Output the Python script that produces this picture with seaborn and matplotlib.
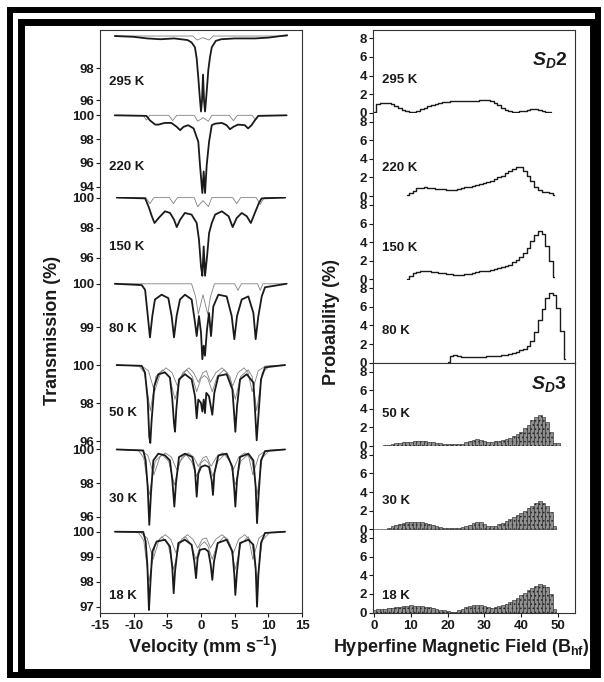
"""
Mossbauer spectra (left) and hyperfine field distributions (right)
for the S_D2 / S_D3 samples, 18 K - 295 K.
"""

import matplotlib.patches as mpatches
import matplotlib.pyplot as plt
import seaborn as sns

sns.set_theme(style="ticks")
plt.rcParams.update({
    "font.family": ["Liberation Sans", "DejaVu Sans"],
    "font.weight": "bold",
    "mathtext.fontset": "custom",
    "mathtext.rm": "Liberation Sans:bold",
    "mathtext.it": "Liberation Sans:italic:bold",
    "mathtext.bf": "Liberation Sans:bold",
    "axes.unicode_minus": False,
    "hatch.linewidth": 0.6,
    "axes.linewidth": 0.8,
})

# ---------------------------------------------------------------- data
temps = ["295 K", "220 K", "150 K", "80 K", "50 K", "30 K", "18 K"]

# measured spectra: velocity (mm/s) and transmission (%)
v_295 = [-12.8, -10.0, -8.0, -6.0, -4.0, -3.0, -2.0, -1.4, -0.9, -0.64, -0.4, -0.2, 0.0, 0.15,
         0.3, 0.45, 0.6, 0.8, 1.0, 1.09, 1.34, 1.6, 2.2, 3.0, 5.0, 8.0, 10.0, 12.8]
t_295 = [100.0, 99.95, 99.85, 99.8, 99.85, 99.8, 99.75, 99.6, 99.3, 98.6, 97.4, 96.3, 95.3, 96.0,
         97.6, 96.0, 95.3, 96.3, 97.4, 97.9, 98.7, 99.3, 99.7, 99.8, 99.85, 99.85, 99.9, 100.05]

v_220 = [-12.8, -8.1, -7.6, -6.8, -6.3, -5.4, -4.4, -3.6, -3.1, -2.6, -1.9, -1.1, -0.4, -0.15,
         0.2, 0.4, 0.6, 0.85, 1.2, 1.6, 2.1, 3.1, 3.8, 4.3, 4.8, 5.5, 6.5, 7.0, 7.5, 8.0, 8.5, 12.7]
t_220 = [100.0, 99.95, 99.58, 99.22, 99.22, 99.36, 99.36, 99.03, 98.75, 99.03, 99.17, 98.9, 97.78,
         95.83, 93.47, 95.28, 93.47, 95.83, 97.78, 99.17, 99.3, 99.36, 99.17, 98.83, 99.03, 99.22,
         99.17, 98.9, 99.17, 99.58, 99.95, 100.0]

v_150 = [-12.5, -8.3, -7.8, -7.3, -6.9, -6.3, -5.35, -4.6, -4.0, -3.6, -3.1, -2.4, -1.4, -0.64,
         -0.3, 0.0, 0.2, 0.4, 0.6, 0.9, 1.2, 1.6, 2.1, 3.1, 4.1, 4.7, 5.3, 6.05, 6.8, 7.4, 8.0,
         8.6, 9.0, 12.5]
t_150 = [100.0, 99.95, 99.42, 98.76, 98.31, 98.64, 99.09, 98.98, 98.53, 98.04, 98.53, 98.98, 98.87,
         98.31, 97.2, 95.42, 94.8, 96.75, 94.8, 96.09, 97.64, 98.31, 98.87, 99.09, 98.76, 98.04,
         98.64, 98.98, 98.76, 98.31, 98.98, 99.64, 99.95, 100.0]

v_80 = [-12.8, -8.8, -8.3, -7.9, -7.58, -7.23, -6.84, -5.85, -4.85, -4.36, -4.01, -3.62, -3.12,
        -2.38, -1.39, -0.89, -0.64, -0.30, 0.0, 0.2, 0.4, 0.59, 0.89, 1.19, 1.49, 1.83, 2.58, 3.81,
        4.56, 4.95, 5.35, 6.05, 7.03, 7.78, 8.12, 8.52, 9.02, 9.51, 12.7]
t_80 = [100.0, 99.97, 99.86, 99.26, 98.77, 99.26, 99.64, 99.75, 99.67, 99.26, 98.77, 99.26, 99.64,
        99.75, 99.64, 99.11, 98.8, 99.26, 98.88, 98.27, 98.58, 98.35, 98.95, 99.33, 98.8, 99.48,
        99.75, 99.71, 99.26, 98.73, 99.26, 99.64, 99.71, 99.33, 98.73, 99.26, 99.71, 99.92, 100.0]

v_50 = [-12.53, -8.81, -8.32, -7.92, -7.68, -7.53, -7.33, -6.93, -6.34, -5.35, -4.61, -4.26, -4.01,
        -3.86, -3.67, -3.27, -2.38, -1.39, -0.89, -0.64, -0.40, 0.0, 0.2, 0.4, 0.59, 0.79, 1.19,
        1.68, 1.98, 2.58, 3.81, 4.66, 4.95, 5.10, 5.35, 5.80, 6.79, 7.78, 8.02, 8.27, 8.52, 8.91,
        9.51, 12.48]
t_50 = [100.0, 99.96, 99.61, 98.19, 96.23, 95.91, 97.12, 98.9, 99.52, 99.61, 99.34, 98.19, 96.94,
        96.5, 97.65, 99.25, 99.52, 99.25, 98.36, 97.21, 98.19, 98.01, 97.56, 98.19, 97.48, 98.54,
        98.36, 97.39, 98.54, 99.43, 99.52, 98.72, 97.3, 96.5, 97.83, 99.25, 99.52, 99.08, 97.65,
        96.05, 97.3, 99.25, 99.88, 100.0]

v_30 = [-12.53, -8.57, -8.22, -7.92, -7.68, -7.43, -7.08, -6.34, -5.35, -4.61, -4.26, -3.96, -3.72,
        -3.27, -2.38, -1.29, -0.89, -0.64, -0.40, 0.0, 0.59, 1.19, 1.58, 1.78, 1.98, 2.58, 3.81,
        4.66, 4.95, 5.10, 5.35, 5.80, 7.03, 7.78, 8.12, 8.32, 8.57, 8.91, 9.51, 12.48]
t_30 = [100.0, 99.94, 99.35, 97.78, 95.53, 97.39, 99.35, 99.75, 99.65, 99.35, 98.18, 96.61, 97.98,
        99.55, 99.75, 99.55, 98.76, 97.2, 98.57, 98.96, 99.06, 98.96, 98.18, 97.3, 98.57, 99.65,
        99.75, 98.96, 97.59, 96.61, 98.18, 99.55, 99.75, 99.35, 97.78, 95.63, 97.39, 99.35, 99.9,
        100.0]

v_18 = [-12.78, -8.57, -8.22, -7.97, -7.83, -7.73, -7.53, -7.23, -6.59, -5.35, -4.61, -4.26, -4.06,
        -3.86, -3.37, -2.38, -1.39, -0.99, -0.74, -0.50, -0.15, 0.59, 1.09, 1.44, 1.68, 1.93, 2.48,
        3.81, 4.66, 4.95, 5.10, 5.35, 5.80, 7.03, 7.78, 8.12, 8.32, 8.52, 8.91, 9.51, 12.48]
t_18 = [100.0, 99.99, 99.61, 98.68, 97.61, 96.88, 97.88, 99.21, 99.61, 99.68, 99.41, 98.55, 97.55,
        98.41, 99.55, 99.68, 99.48, 98.81, 98.15, 98.95, 99.28, 99.32, 99.21, 98.68, 98.08, 98.81,
        99.55, 99.68, 99.21, 98.28, 97.48, 98.41, 99.55, 99.68, 99.48, 98.55, 97.01, 98.28, 99.55,
        99.95, 100.0]

# fitted sub-spectra (thin lines)
fit_v_295 = [-12.8, -1.2, -0.6, 0.3, 1.2, 1.8, 12.8]
fit_t_295 = [100.0, 100.0, 99.75, 99.9, 99.75, 100.0, 100.0]

fit_v_220 = [-12.8, -8.6, -8.1, -7.6, -4.8, -4.2, -3.6, -1.0, -0.5, 0.3, 1.1, 1.6, 4.2, 4.8, 5.4,
             7.6, 8.1, 8.6, 12.8]
fit_t_220 = [100.0, 100.0, 99.6, 100.0, 100.0, 99.55, 100.0, 100.0, 99.5, 99.8, 99.5, 100.0, 100.0,
             99.55, 100.0, 100.0, 99.6, 100.0, 100.0]

fit_v_150 = [-12.5, -8.2, -7.6, -7.0, -4.7, -4.1, -3.5, -1.0, -0.5, 0.3, 1.1, 1.6, 4.7, 5.3, 5.9,
             8.2, 8.8, 9.4, 12.5]
fit_t_150 = [100.0, 100.0, 99.6, 100.0, 100.0, 99.6, 100.0, 100.0, 99.4, 99.8, 99.4, 100.0, 100.0,
             99.6, 100.0, 100.0, 99.55, 100.0, 100.0]

fit_v_80 = [-12.8, -1.4, -0.8, -0.4, 0.3, 1.0, 1.4, 2.0, 5.0, 5.5, 6.0, 8.4, 8.8, 9.2, 12.8]
fit_t_80 = [100.0, 100.0, 99.7, 99.3, 99.75, 99.3, 99.7, 100.0, 100.0, 99.85, 100.0, 100.0, 99.85,
            100.0, 100.0]

fit_v_50a = [-12.5, -9.2, -8.4, -7.53, -6.7, -5.7, -4.7, -3.86, -3.0, -2.1, -1.3, -0.64, 0.0, 0.5,
             1.0, 1.68, 2.4, 3.4, 4.3, 5.1, 5.9, 7.0, 7.6, 8.27, 9.1, 10.2, 12.5]
fit_t_50a = [100.0, 99.95, 99.6, 97.6, 99.4, 99.75, 99.4, 98.2, 99.4, 99.75, 99.4, 98.6, 99.3,
             99.45, 99.3, 98.6, 99.4, 99.75, 99.4, 98.2, 99.4, 99.75, 99.4, 97.6, 99.6, 99.95, 100.0]
fit_v_50b = [-12.5, -8.8, -7.8, -6.9, -6.0, -5.2, -4.3, -3.5, -2.7, -1.8, -1.1, -0.4, 0.3, 0.8,
             1.4, 2.2, 3.1, 3.9, 4.7, 5.5, 6.4, 7.0, 7.6, 8.5, 9.6, 12.5]
fit_t_50b = [100.0, 99.95, 99.7, 98.6, 99.6, 99.85, 99.6, 98.9, 99.6, 99.85, 99.6, 99.1, 99.6, 99.7,
             99.1, 99.6, 99.85, 99.6, 98.9, 99.6, 99.85, 99.6, 98.6, 99.7, 99.95, 100.0]

fit_v_30a = [-12.5, -9.3, -8.5, -7.68, -6.8, -5.8, -4.8, -3.96, -3.1, -2.2, -1.4, -0.64, 0.0, 0.55,
             1.1, 1.78, 2.5, 3.5, 4.3, 5.1, 5.9, 7.0, 7.6, 8.32, 9.1, 10.2, 12.5]
fit_t_30a = [100.0, 99.95, 99.5, 97.3, 99.3, 99.7, 99.3, 97.9, 99.3, 99.7, 99.3, 98.4, 99.2, 99.4,
             99.2, 98.4, 99.3, 99.7, 99.3, 97.9, 99.3, 99.7, 99.3, 97.3, 99.5, 99.95, 100.0]
fit_v_30b = [-12.5, -8.9, -7.9, -7.0, -6.1, -5.3, -4.4, -3.6, -2.8, -1.9, -1.1, -0.4, 0.3, 0.8,
             1.5, 2.3, 3.2, 4.0, 4.8, 5.6, 6.5, 7.1, 7.7, 8.6, 9.7, 12.5]
fit_t_30b = [100.0, 99.95, 99.65, 98.5, 99.55, 99.8, 99.55, 98.8, 99.55, 99.8, 99.55, 99.0, 99.5,
             99.6, 99.0, 99.55, 99.8, 99.55, 98.8, 99.55, 99.8, 99.55, 98.5, 99.65, 99.95, 100.0]

fit_v_18a = [-12.5, -9.3, -8.5, -7.73, -6.8, -5.8, -4.9, -4.06, -3.2, -2.3, -1.5, -0.74, -0.1, 0.5,
             1.0, 1.68, 2.4, 3.4, 4.3, 5.1, 5.9, 7.0, 7.6, 8.32, 9.1, 10.2, 12.5]
fit_t_18a = [100.0, 99.97, 99.65, 98.0, 99.5, 99.8, 99.5, 98.5, 99.5, 99.8, 99.5, 98.9, 99.45, 99.6,
             99.45, 98.9, 99.5, 99.8, 99.5, 98.5, 99.5, 99.8, 99.5, 98.0, 99.65, 99.97, 100.0]
fit_v_18b = [-12.5, -9.0, -8.0, -7.1, -6.2, -5.3, -4.5, -3.7, -2.9, -2.0, -1.2, -0.5, 0.2, 0.8,
             1.4, 2.2, 3.1, 4.0, 4.8, 5.6, 6.5, 7.1, 7.7, 8.6, 9.7, 12.5]
fit_t_18b = [100.0, 99.97, 99.75, 98.9, 99.7, 99.88, 99.7, 99.15, 99.7, 99.88, 99.7, 99.35, 99.7,
             99.75, 99.35, 99.7, 99.88, 99.7, 99.15, 99.7, 99.88, 99.7, 98.9, 99.75, 99.97, 100.0]

# hyperfine field distributions: bin centres (T) and probability (%)
field_295 = list(range(0, 49))
prob_295 = [0.1, 0.9, 1.05, 1.1, 1.05, 0.9, 0.7, 0.5, 0.3, 0.15,
            0.05, 0.05, 0.2, 0.45, 0.55, 0.75, 0.86, 1.0, 1.05, 1.15,
            1.2, 1.25, 1.3, 1.3, 1.3, 1.25, 1.25, 1.25, 1.3, 1.35,
            1.4, 1.4, 1.3, 1.1, 0.85, 0.55, 0.3, 0.15, 0.1, 0.1,
            0.15, 0.2, 0.3, 0.38, 0.45, 0.35, 0.15, 0.1, 0.05]

field_220 = list(range(9, 50))
prob_220 = [0.1, 0.35, 0.6, 0.85, 0.92, 0.94, 0.9, 0.85, 0.8, 0.75,
            0.72, 0.68, 0.66, 0.68, 0.72, 0.82, 0.93, 1.02, 1.12, 1.2,
            1.3, 1.4, 1.5, 1.62, 1.8, 2.0, 2.2, 2.45, 2.7, 2.9,
            3.15, 3.1, 2.75, 2.2, 1.6, 0.95, 0.65, 0.47, 0.4, 0.3, 0.15]

field_150 = list(range(9, 50))
prob_150 = [0.05, 0.4, 0.65, 0.82, 0.92, 0.94, 0.88, 0.82, 0.75, 0.7,
            0.65, 0.6, 0.56, 0.5, 0.48, 0.5, 0.55, 0.62, 0.72, 0.8,
            0.85, 0.88, 0.95, 1.0, 1.08, 1.2, 1.3, 1.45, 1.6, 1.85,
            2.1, 2.4, 2.85, 3.4, 4.1, 4.8, 5.2, 4.9, 3.6, 2.0, 0.3]

field_80 = list(range(20, 53))
prob_80 = [0.1, 0.75, 0.85, 0.75, 0.62, 0.58, 0.58, 0.6, 0.62, 0.65,
           0.66, 0.67, 0.68, 0.7, 0.73, 0.78, 0.85, 0.95, 1.05, 1.2,
           1.32, 1.5, 1.8, 2.3, 3.3, 4.6, 5.8, 6.9, 7.5, 7.3, 5.9, 3.4, 0.4]

field_50 = list(range(0, 51))
prob_50 = [0.0, 0.0, 0.02, 0.05, 0.1, 0.18, 0.28, 0.36, 0.4, 0.42,
           0.45, 0.5, 0.53, 0.54, 0.5, 0.46, 0.4, 0.33, 0.28, 0.24,
           0.2, 0.18, 0.18, 0.2, 0.25, 0.4, 0.55, 0.68, 0.72, 0.65,
           0.5, 0.38, 0.4, 0.48, 0.55, 0.65, 0.78, 0.9, 1.05, 1.3,
           1.55, 1.9, 2.3, 2.75, 3.1, 3.3, 3.15, 2.6, 1.5, 0.35, 0.3]

field_30 = list(range(0, 50))
prob_30 = [0.0, 0.0, 0.0, 0.05, 0.18, 0.32, 0.48, 0.6, 0.68, 0.75,
           0.79, 0.79, 0.77, 0.74, 0.68, 0.55, 0.42, 0.3, 0.22, 0.17,
           0.14, 0.13, 0.13, 0.15, 0.22, 0.32, 0.5, 0.68, 0.78, 0.75,
           0.55, 0.35, 0.33, 0.4, 0.55, 0.7, 0.9, 1.1, 1.3, 1.5,
           1.7, 1.95, 2.25, 2.55, 2.85, 3.05, 2.85, 2.5, 1.8, 0.3]

field_18 = list(range(0, 50))
prob_18 = [0.29, 0.33, 0.38, 0.42, 0.47, 0.5, 0.55, 0.6, 0.65, 0.72,
           0.76, 0.75, 0.72, 0.65, 0.6, 0.55, 0.48, 0.4, 0.3, 0.22,
           0.12, 0.04, 0.1, 0.22, 0.4, 0.58, 0.72, 0.84, 0.86, 0.8,
           0.65, 0.55, 0.5, 0.55, 0.65, 0.8, 0.94, 1.1, 1.3, 1.55,
           1.84, 2.1, 2.38, 2.6, 2.9, 3.1, 3.0, 2.75, 2.0, 0.35]

# ---------------------------------------------------------------- layout
W, H = 604, 682
TOP, BOT = 30, 613
PH = (BOT - TOP) / 7.0
INK = "#1a1a1a"


def panel_rect(x0, x1, i):
    y_top = TOP + i * PH
    return [x0 / W, 1 - (y_top + PH) / H, (x1 - x0) / W, PH / H]


def style_axis(ax, i, show_top, show_bottom):
    for side in ("left", "right", "top", "bottom"):
        ax.spines[side].set_color("#333333")
        ax.spines[side].set_linewidth(0.8)
    ax.spines["top"].set_visible(show_top)
    ax.spines["bottom"].set_visible(show_bottom)
    ax.tick_params(axis="y", direction="out", length=3, width=0.8, pad=1.2,
                   labelsize=9.5, colors=INK)
    if i == 6:
        ax.tick_params(axis="x", direction="out", length=3, width=0.8, pad=2,
                       labelsize=9.5, colors=INK)
    else:
        ax.tick_params(axis="x", bottom=False, labelbottom=False)
    ax.set_xlabel("")
    ax.set_ylabel("")


fig = plt.figure(figsize=(W / 100, H / 100), dpi=100)

# left: Mossbauer spectra
left_specs = [
    (v_295, t_295, [(fit_v_295, fit_t_295)], (95.19, 100.375), [96, 98], 0.37),
    (v_220, t_220, [(fit_v_220, fit_t_220)], (93.17, 100.17), [94, 96, 98, 100], 0.35),
    (v_150, t_150, [(fit_v_150, fit_t_150)], (94.53, 100.07), [96, 98, 100], 0.40),
    (v_80, t_80, [(fit_v_80, fit_t_80)], (98.18, 100.09), [99, 100], 0.41),
    (v_50, t_50, [(fit_v_50a, fit_t_50a), (fit_v_50b, fit_t_50b)], (95.73, 100.1), [96, 98, 100], 0.40),
    (v_30, t_30, [(fit_v_30a, fit_t_30a), (fit_v_30b, fit_t_30b)], (95.24, 100.18), [96, 98, 100], 0.37),
    (v_18, t_18, [(fit_v_18a, fit_t_18a), (fit_v_18b, fit_t_18b)], (96.76, 100.08), [97, 98, 99, 100], 0.20),
]

for i, (v, t, fits, ylim, yt, ty) in enumerate(left_specs):
    ax = fig.add_axes(panel_rect(100, 302, i))
    for fv, ft in fits:
        sns.lineplot(x=fv, y=ft, ax=ax, color="#808080", lw=0.6, sort=False, estimator=None)
    sns.lineplot(x=v, y=t, ax=ax, color=INK, lw=1.3, sort=False, estimator=None)
    ax.set_xlim(-15, 15)
    ax.set_ylim(*ylim)
    ax.set_yticks(yt)
    ax.set_yticklabels([str(y) for y in yt])
    ax.set_xticks([-15, -10, -5, 0, 5, 10, 15])
    style_axis(ax, i, show_top=(i == 0), show_bottom=(i == 6))
    ax.text(0.045, ty, temps[i], transform=ax.transAxes, fontsize=9.5,
            fontweight="bold", va="center", ha="left", color=INK)

# right: hyperfine field distributions
right_specs = [
    (field_295, prob_295, False, 0.40),
    (field_220, prob_220, False, 0.34),
    (field_150, prob_150, False, 0.385),
    (field_80, prob_80, False, 0.385),
    (field_50, prob_50, True, 0.385),
    (field_30, prob_30, True, 0.35),
    (field_18, prob_18, True, 0.20),
]

for i, (b, p, filled, ty) in enumerate(right_specs):
    ax = fig.add_axes(panel_rect(373, 575, i))
    if filled:
        ax.bar(b, p, width=1.0, facecolor="#8f8f8f", edgecolor="#222222",
               linewidth=0.4, hatch="....")
    else:
        sns.lineplot(x=b, y=p, ax=ax, color=INK, lw=1.0, drawstyle="steps-mid",
                     sort=False, estimator=None)
    ax.set_xlim(-0.3, 54.6)
    ax.set_ylim(-0.05, 8.9)
    ax.set_yticks([0, 2, 4, 6, 8])
    ax.set_yticklabels(["0", "2", "4", "6", "8"])
    ax.set_xticks([0, 10, 20, 30, 40, 50])
    style_axis(ax, i, show_top=(i in (0, 4)), show_bottom=(i in (3, 6)))
    ax.text(0.045, ty, temps[i], transform=ax.transAxes, fontsize=9.5,
            fontweight="bold", va="center", ha="left", color=INK)
    if i == 0:
        ax.text(0.96, 0.64, r"$S_D$2", transform=ax.transAxes, fontsize=14,
                fontweight="bold", ha="right", va="center", color=INK)
    if i == 4:
        ax.text(0.96, 0.75, r"$S_D$3", transform=ax.transAxes, fontsize=14,
                fontweight="bold", ha="right", va="center", color=INK)

# axis titles
fig.text(53 / W, 1 - 330 / H, "Transmission (%)", rotation=90, fontsize=13,
         fontweight="bold", ha="center", va="center", color=INK)
fig.text(203 / W, 1 - 647 / H, r"Velocity (mm s$^{-1}$)", fontsize=13,
         fontweight="bold", ha="center", va="center", color=INK)
fig.text(332 / W, 1 - 322 / H, "Probability (%)", rotation=90, fontsize=13,
         fontweight="bold", ha="center", va="center", color=INK)
fig.text(461 / W, 1 - 647 / H, r"Hyperfine Magnetic Field (B$_{\mathrm{hf}}$)", fontsize=13,
         fontweight="bold", ha="center", va="center", color=INK)

# double black frame
fig.add_artist(mpatches.Rectangle((10 / W, 1 - 675 / H), 588 / W, 665 / H,
                                  transform=fig.transFigure, fill=False,
                                  ec="black", lw=4.3))
fig.add_artist(mpatches.Rectangle((20.5 / W, 1 - 672 / H), 572.5 / W, 650.5 / H,
                                  transform=fig.transFigure, fill=False,
                                  ec="black", lw=5.0))

fig.savefig("out.png", dpi=100)
